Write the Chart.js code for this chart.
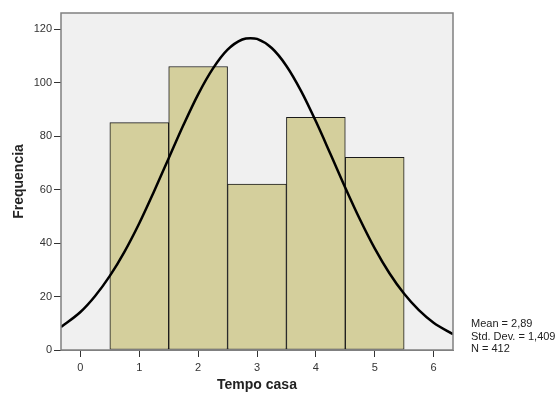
<!DOCTYPE html>
<html lang="pt">
<head>
  <meta charset="UTF-8">
  <title>Tempo casa</title>
  <script src="https://cdn.jsdelivr.net/npm/chart.js@4.4.0/dist/chart.umd.min.js"></script>
  <style>
    html, body { margin: 0; padding: 0; background: #fff; }
    #wrap { position: relative; width: 555px; height: 394px; }
  </style>
</head>
<body>
  <div id="wrap"><canvas id="hist" width="555" height="394"></canvas></div>

  <script>
    // histogram bins (Tempo casa) and counts
    const bins = [1, 2, 3, 4, 5];
    const counts = [85, 106, 62, 87, 72];

    // normal curve
    const curveX = [-0.33, 0, 0.25, 0.5, 0.75, 1, 1.25, 1.5, 1.75, 2, 2.25, 2.5, 2.75, 2.89, 3, 3.25, 3.5, 3.75, 4, 4.25, 4.5, 4.75, 5, 5.25, 5.5, 5.75, 6, 6.33];
    const curveY = [8.6, 14.2, 20.2, 27.7, 36.8, 47.4, 59.3, 71.7, 84.1, 95.6, 105.2, 112.3, 116.1, 116.6, 116.3, 112.9, 106.2, 96.8, 85.5, 73.2, 60.7, 48.8, 38.0, 28.7, 21.0, 14.9, 10.2, 5.9];

    const xTicks = [0, 1, 2, 3, 4, 5, 6];
    const yTicks = [0, 20, 40, 60, 80, 100, 120];
    const stats = ['Mean = 2,89', 'Std. Dev. = 1,409', 'N = 412'];

    const font = "'Liberation Sans', Arial, sans-serif";

    // plot background + frame, stats box
    const frame = {
      id: 'frame',
      beforeDatasetsDraw(chart) {
        const { ctx, chartArea: a } = chart;
        ctx.save();
        ctx.fillStyle = '#f0f0f0';
        ctx.fillRect(a.left, a.top, a.right - a.left, a.bottom - a.top);
        ctx.restore();
      },
      afterDraw(chart) {
        const { ctx, chartArea: a } = chart;
        ctx.save();
        ctx.strokeStyle = '#808080';
        ctx.lineWidth = 1.5;
        ctx.strokeRect(a.left, a.top, a.right - a.left, a.bottom - a.top);
        ctx.fillStyle = '#222';
        ctx.font = '11px ' + font;
        ctx.textBaseline = 'middle';
        stats.forEach((s, i) => ctx.fillText(s, 471, 324 + i * 12.5));
        ctx.restore();
      }
    };

    new Chart(document.getElementById('hist'), {
      data: {
        datasets: [
          {
            type: 'line',
            data: curveX.map((x, i) => ({ x, y: curveY[i] })),
            borderColor: '#000',
            borderWidth: 2.5,
            pointRadius: 0,
            cubicInterpolationMode: 'monotone',
            fill: false,
            order: 0
          },
          {
            type: 'bar',
            data: bins.map((x, i) => ({ x, y: counts[i] })),
            backgroundColor: '#d4cf9c',
            borderColor: '#1a1a1a',
            borderWidth: 1,
            borderSkipped: false,
            barPercentage: 1,
            categoryPercentage: 1,
            order: 1
          }
        ]
      },
      options: {
        responsive: false,
        animation: false,
        layout: { padding: { top: 13, right: 102, left: 0, bottom: 0 } },
        plugins: { legend: { display: false }, tooltip: { enabled: false } },
        scales: {
          x: {
            type: 'linear',
            offset: false,
            min: -0.33,
            max: 6.33,
            afterBuildTicks: s => { s.ticks = xTicks.map(v => ({ value: v })); },
            afterFit: s => { s.height = 44; },
            grid: { offset: false, drawOnChartArea: false, tickLength: 7, tickColor: '#333', tickWidth: 1 },
            border: { color: '#808080' },
            ticks: { color: '#333', font: { family: font, size: 11 }, padding: 4 },
            title: { display: true, text: 'Tempo casa', color: '#222', font: { family: font, size: 14, weight: 'bold' }, padding: { top: 4, bottom: 0 } }
          },
          y: {
            min: 0,
            max: 126,
            afterBuildTicks: s => { s.ticks = yTicks.map(v => ({ value: v })); },
            afterFit: s => { s.width = 61; },
            grid: { drawOnChartArea: false, tickLength: 7, tickColor: '#333', tickWidth: 1 },
            border: { color: '#808080' },
            ticks: { color: '#333', font: { family: font, size: 11 }, padding: 2 },
            title: { display: true, text: 'Frequencia', color: '#222', font: { family: font, size: 14, weight: 'bold' }, padding: { top: 11, bottom: 12 } }
          }
        }
      },
      plugins: [frame]
    });
  </script>
</body>
</html>
